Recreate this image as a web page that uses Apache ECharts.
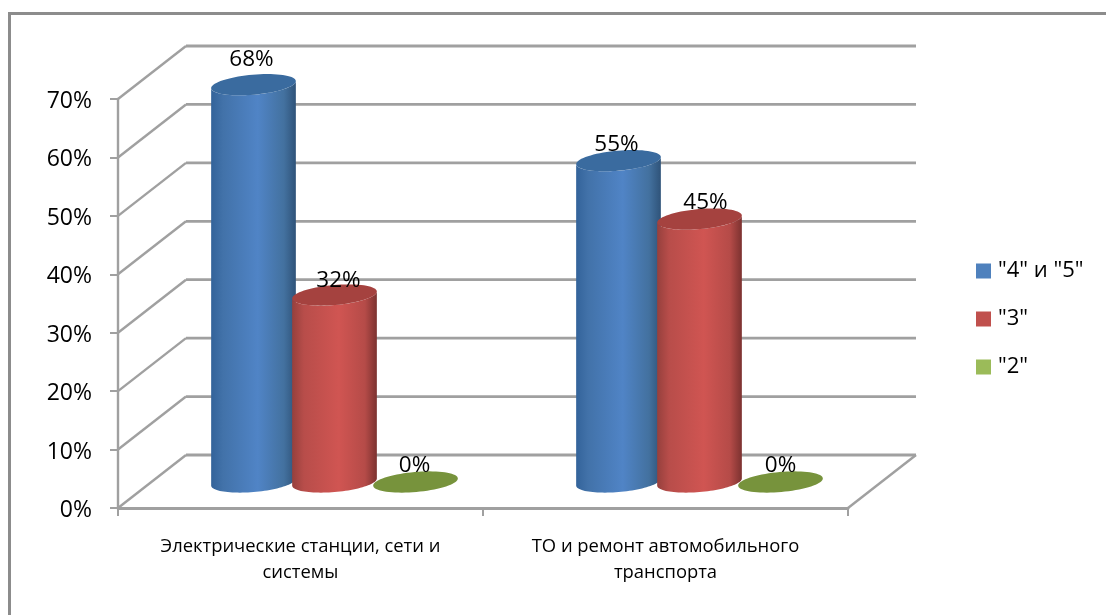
<!DOCTYPE html>
<html><head><meta charset="utf-8">
<style>html,body{margin:0;padding:0;background:#fff}#c{width:1106px;height:615px}</style>
<script src="https://cdn.jsdelivr.net/npm/echarts@6/dist/echarts.min.js"></script>
</head><body><div id="c"></div>
<script>
const categories = ['Электрические станции, сети и\nсистемы', 'ТО и ремонт автомобильного\nтранспорта'];
const seriesNames = ['"4" и "5"', '"3"', '"2"'];
const grade45 = [68, 55];
const grade3 = [32, 45];
const grade2 = [0, 0];
const yTicks = [0, 10, 20, 30, 40, 50, 60, 70];

const FONT = '"Open Sans", sans-serif';
const DEPTH_X = 68, DEPTH_Y = -53;      // floor depth of the fake 3D box
const MID_X = 34, MID_Y = -26;          // plane in which the cylinders stand
const SLOT = 81, RX = 42.5, RY = 10, TILT = -5 * Math.PI / 180;
const GRID = '#a0a0a0', TXT = '#000';

const palettes = [
  {legend:'#4f81bd', body:['#33639a','#4272a9','#5084c6','#43719f','#2f5379'], top:'#3a6b9f'},
  {legend:'#c0504d', body:['#96403d','#b84d4a','#d05552','#b54b48','#7c3230'], top:'#a5423f'},
  {legend:'#9bbb59', body:['#77933c','#77933c','#77933c','#77933c','#77933c'], top:'#77933c'}
];
// Hand placement of a few value labels, as in the reference [dx, dy per category]
const labelNudge = [
  [[-2, -9], [-2, 0]],
  [[4, 2], [6, 0]],
  [[-1, 0], [0, 0]]
];

function ell(c, t) {
  const x = RX * Math.cos(t), y = RY * Math.sin(t);
  return [c[0] + x * Math.cos(TILT) - y * Math.sin(TILT),
          c[1] + x * Math.sin(TILT) + y * Math.cos(TILT)];
}
function ellipse(c) {
  const p = [];
  for (let i = 0; i < 72; i++) p.push(ell(c, i / 72 * 2 * Math.PI));
  return p;
}
function cylinderItem(si) {
  return function (params, api) {
    const cat = api.value(0), v = api.value(1);
    const base0 = api.coord([cat, 0]), top0 = api.coord([cat, v]);
    const dx = (si - 1) * SLOT + MID_X;
    const base = [base0[0] + dx, base0[1] + MID_Y];
    const top = [top0[0] + dx, top0[1] + MID_Y];
    const pal = palettes[si];
    const children = [];
    if (v > 0) {
      const t0 = Math.atan2(-RY * Math.sin(TILT), RX * Math.cos(TILT));
      const pts = [];
      for (let i = 0; i <= 48; i++) pts.push(ell(base, t0 + i / 48 * Math.PI));
      for (let i = 48; i >= 0; i--) pts.push(ell(top, t0 + i / 48 * Math.PI));
      children.push({
        type: 'polygon', shape: {points: pts},
        style: {fill: new echarts.graphic.LinearGradient(0, 0, 1, 0, [
          {offset: 0, color: pal.body[0]}, {offset: .14, color: pal.body[1]},
          {offset: .55, color: pal.body[2]}, {offset: .86, color: pal.body[3]},
          {offset: 1, color: pal.body[4]}])}
      });
    }
    children.push({type: 'polygon', shape: {points: ellipse(top)}, style: {fill: pal.top}});
    const n = labelNudge[si][cat];
    children.push({
      type: 'text', z2: 50,
      style: {x: top[0] + n[0], y: top[1] - 16 + n[1], text: v + '%', fill: TXT,
              font: '22.5px ' + FONT, align: 'center', verticalAlign: 'middle'}
    });
    return {type: 'group', children};
  };
}
function depthGridItem(params, api) {
  const v = api.value(0);
  const f = api.coord([0, v]);
  const right = api.coord([1, v]);
  const band = api.size([1, 0])[0];
  const fx = f[0] - band / 2;
  const bx = fx + DEPTH_X, by = f[1] + DEPTH_Y;
  const rx = right[0] + band / 2 + DEPTH_X;
  const diag = {stroke: GRID, lineWidth: 2.4};
  const children = [
    {type: 'line', shape: {x1: fx, y1: f[1], x2: bx, y2: by}, style: diag},
    {type: 'line', shape: {x1: bx, y1: by, x2: rx, y2: by}, style: {stroke: GRID, lineWidth: 2.8}}
  ];
  if (v === 0) children.push({type: 'line',
    shape: {x1: rx - DEPTH_X, y1: f[1], x2: rx, y2: by}, style: diag});
  return {type: 'group', children};
}
const tuples = a => a.map((v, i) => [i, v]);
const values = [grade45, grade3, grade2];

const chart = echarts.init(document.getElementById('c'), null, {renderer: 'canvas'});
chart.setOption({
  animation: false,
  backgroundColor: '#fff',
  graphic: [{
    type: 'polyline', silent: true,
    shape: {points: [[9.5, 615], [9.5, 13.5], [1106, 13.5]]},
    style: {stroke: '#8c8c8c', lineWidth: 3, fill: 'none'}
  }],
  legend: {
    orient: 'vertical', left: 971, top: 251, itemWidth: 15, itemHeight: 15, itemGap: 18,
    icon: 'rect', data: seriesNames, itemStyle: {borderWidth: 0},
    textStyle: {fontFamily: FONT, fontSize: 22, color: TXT, padding: [0, 0, 0, 2], lineHeight: 30}
  },
  grid: {left: 118, right: 258, top: 99, bottom: 107},
  xAxis: {
    type: 'category', data: categories,
    axisLine: {lineStyle: {color: GRID, width: 2.8}},
    axisTick: {show: true, length: 8, lineStyle: {color: GRID, width: 2}},
    axisLabel: {fontFamily: FONT, fontSize: 18.4, color: TXT, lineHeight: 26, margin: 26, interval: 0},
    splitLine: {show: false}
  },
  yAxis: {
    type: 'value', min: 0, max: 70, interval: 10,
    axisLine: {show: true, lineStyle: {color: GRID, width: 2.4}},
    axisTick: {show: true, length: 8, lineStyle: {color: GRID, width: 2}},
    axisLabel: {fontFamily: FONT, fontSize: 23, color: TXT, margin: 26, verticalAlign: 'top', lineHeight: 5, formatter: '{value}%'},
    splitLine: {show: false}
  },
  series: [
    {type: 'custom', name: 'grid', silent: true, z: 1, renderItem: depthGridItem,
     data: yTicks.map(v => [v]), encode: {y: 0}, clip: false, legendHoverLink: false},
    ...seriesNames.map((name, si) => ({
      type: 'custom', name, z: 2 + si, clip: false,
      itemStyle: {color: palettes[si].legend},
      renderItem: cylinderItem(si),
      encode: {x: 0, y: 1},
      data: tuples(values[si])
    }))
  ]
});
</script></body></html>
